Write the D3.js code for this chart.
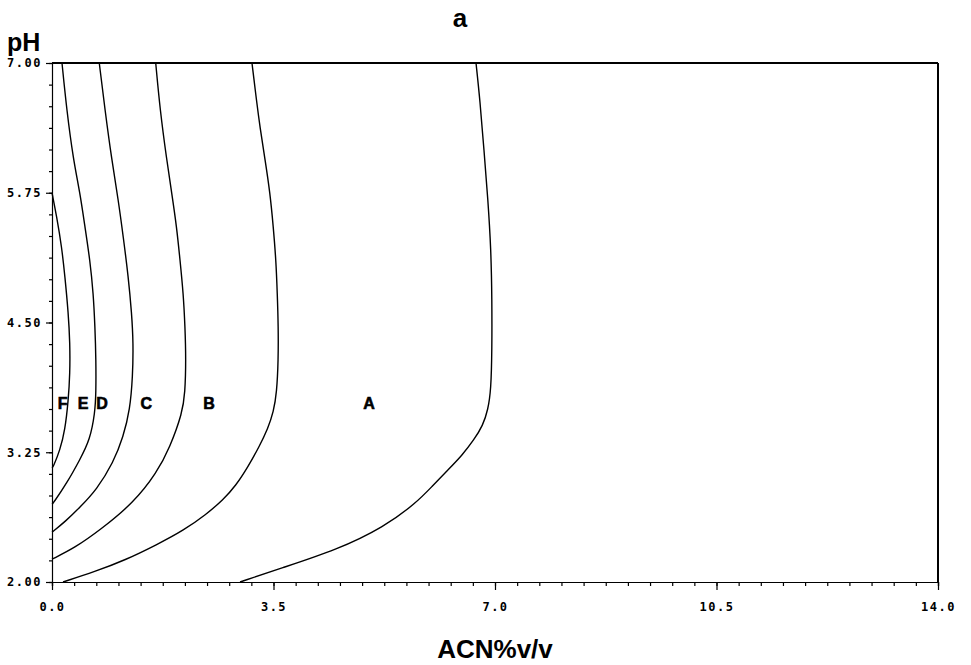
<!DOCTYPE html>
<html>
<head>
<meta charset="utf-8">
<script src="https://cdn.jsdelivr.net/npm/d3@7"></script>
<style>
  body { margin: 0; background: #fff; }
  svg { display: block; }
  .tick-label { font-family: "DejaVu Sans Mono", monospace; font-size: 12px; font-weight: bold; letter-spacing: 1.5px; }
  .bold { font-family: "Liberation Sans", Arial, sans-serif; font-weight: bold; }
</style>
</head>
<body>
<svg width="971" height="665"></svg>
<script>
const svg = d3.select("svg")
const width = +svg.attr("width")
const height = +svg.attr("height")

// boundary curves, [ACN %, pH]
const curve1 = [[0, 5.75], [0.074, 5.52], [0.153, 5.23], [0.205, 4.94], [0.258, 4.59], [0.284, 4.30],
  [0.284, 4.01], [0.258, 3.75], [0.205, 3.46], [0.126, 3.27], [0.02, 3.11], [0, 3.10]]
const curve2 = [[0.158, 7.0], [0.232, 6.55], [0.337, 6.07], [0.442, 5.75], [0.521, 5.42], [0.600, 5.10],
  [0.653, 4.78], [0.679, 4.46], [0.695, 4.14], [0.695, 3.82], [0.679, 3.63], [0.600, 3.37],
  [0.442, 3.18], [0.232, 2.95], [0.02, 2.76], [0, 2.75]]
const curve3 = [[0.747, 7.0], [0.837, 6.55], [0.943, 6.07], [1.048, 5.68], [1.127, 5.32], [1.206, 4.94],
  [1.259, 4.59], [1.285, 4.30], [1.275, 3.98], [1.232, 3.66], [1.127, 3.40], [0.969, 3.15],
  [0.706, 2.89], [0.442, 2.72], [0.205, 2.58], [0, 2.48]]
const curve4 = [[1.639, 7.0], [1.707, 6.55], [1.812, 6.07], [1.891, 5.75], [1.970, 5.42], [2.023, 5.10],
  [2.075, 4.78], [2.102, 4.46], [2.117, 4.14], [2.102, 3.82], [2.060, 3.63], [1.865, 3.30],
  [1.654, 3.05], [1.285, 2.76], [0.758, 2.50], [0.363, 2.33], [0, 2.22]]
const curve5 = [[3.160, 7.0], [3.235, 6.62], [3.287, 6.38], [3.366, 6.07], [3.445, 5.75], [3.497, 5.42],
  [3.539, 5.10], [3.560, 4.78], [3.576, 4.46], [3.576, 4.14], [3.551, 3.82], [3.500, 3.64],
  [3.413, 3.48], [3.271, 3.30], [3.097, 3.11], [2.907, 2.93], [2.702, 2.79], [2.433, 2.65],
  [2.086, 2.50], [1.659, 2.36], [1.153, 2.21], [0.679, 2.10], [0.174, 2.0]]
const curve6 = [[6.700, 7.0], [6.763, 6.64], [6.826, 6.16], [6.889, 5.68], [6.937, 5.20], [6.952, 4.72],
  [6.952, 4.24], [6.937, 3.85], [6.889, 3.66], [6.810, 3.51], [6.668, 3.37], [6.479, 3.22],
  [6.257, 3.08], [6.004, 2.92], [5.752, 2.76], [5.246, 2.53], [4.503, 2.31], [3.603, 2.13], [2.971, 2.0]]
const curves = [curve1, curve2, curve3, curve4, curve5, curve6]

const regionLabels = ["F", "E", "D", "C", "B", "A"]
const labelAcn = [0.17, 0.49, 0.79, 1.49, 2.48, 5.01]
const labelPH = 3.72

const xTicks = [0, 3.5, 7, 10.5, 14]
const yTicks = [2, 3.25, 4.5, 5.75, 7]

const x = d3.scaleLinear().domain([0, 14]).range([52, 938])
const y = d3.scaleLinear().domain([2, 7]).range([582, 63])

// frame: thin left/bottom, heavier top/right
svg.append("line").attr("x1", x(0)).attr("x2", x(14)).attr("y1", y(7)).attr("y2", y(7))
  .attr("stroke", "#000").attr("stroke-width", 2)
svg.append("line").attr("x1", x(14)).attr("x2", x(14)).attr("y1", y(7)).attr("y2", y(2))
  .attr("stroke", "#000").attr("stroke-width", 2)

// x axis with 10 minor intervals per major step
const xMinor = d3.range(0, 14.0001, 0.35)
svg.append("g")
  .attr("transform", `translate(0,${y(2)})`)
  .call(d3.axisBottom(x).tickValues(xMinor).tickSize(4).tickFormat(""))
  .call(g => g.selectAll("line").attr("stroke-width", 1.2))
  .call(g => g.select(".domain").attr("stroke-width", 1.2))
svg.append("g")
  .attr("transform", `translate(0,${y(2)})`)
  .call(d3.axisBottom(x).tickValues(xTicks).tickSize(8).tickPadding(12).tickFormat(d3.format(".1f")))
  .call(g => g.select(".domain").remove())
  .call(g => g.selectAll("line").attr("stroke-width", 1.2))
  .call(g => g.selectAll("text").attr("class", "tick-label").attr("fill", "#000"))

// y axis with 6 minor intervals per major step
const yMinor = d3.range(0, 25).map(i => 2 + i * 1.25 / 6)
svg.append("g")
  .attr("transform", `translate(${x(0)},0)`)
  .call(d3.axisLeft(y).tickValues(yMinor).tickSize(3).tickFormat(""))
  .call(g => g.selectAll("line").attr("stroke-width", 1.2))
  .call(g => g.select(".domain").attr("stroke-width", 1.2))
svg.append("g")
  .attr("transform", `translate(${x(0)},0)`)
  .call(d3.axisLeft(y).tickValues(yTicks).tickSize(6).tickPadding(4).tickFormat(d3.format(".2f")))
  .call(g => g.select(".domain").remove())
  .call(g => g.selectAll("line").attr("stroke-width", 1.2))
  .call(g => g.selectAll("text").attr("class", "tick-label").attr("fill", "#000"))

const line = d3.line()
  .x(d => x(d[0]))
  .y(d => y(d[1]))
  .curve(d3.curveBasis)

svg.selectAll("path.curve")
  .data(curves)
  .join("path")
  .attr("class", "curve")
  .attr("d", line)
  .attr("fill", "none")
  .attr("stroke", "#000")
  .attr("stroke-width", 1.4)

svg.selectAll("text.region")
  .data(regionLabels)
  .join("text")
  .attr("class", "region bold")
  .attr("x", (d, i) => x(labelAcn[i]))
  .attr("y", y(labelPH))
  .attr("dy", "0.36em")
  .attr("text-anchor", "middle")
  .attr("font-size", 16)
  .attr("stroke", "#000")
  .attr("stroke-width", 0.6)
  .text(d => d)

svg.append("text").attr("class", "bold")
  .attr("x", 460).attr("y", 27)
  .attr("text-anchor", "middle")
  .attr("font-size", 26)
  .text("a")

svg.append("text").attr("class", "bold")
  .attr("x", 7).attr("y", 51)
  .attr("font-size", 25)
  .text("pH")

svg.append("text").attr("class", "bold")
  .attr("x", x(7)).attr("y", 658)
  .attr("text-anchor", "middle")
  .attr("font-size", 26)
  .text("ACN%v/v")
</script>
</body>
</html>
